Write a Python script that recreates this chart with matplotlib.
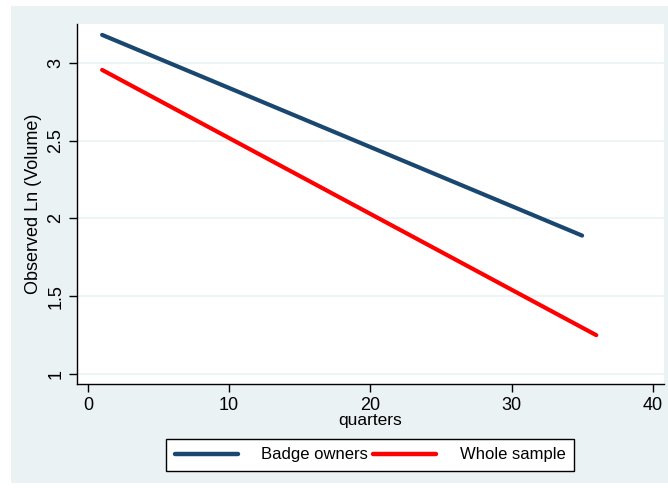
import matplotlib
matplotlib.use("Agg")
import matplotlib.pyplot as plt
from matplotlib.patches import Rectangle

plt.rcParams['font.family'] = ['Liberation Sans', 'DejaVu Sans']

# fitted lines (end points)
badge_q = [1, 35]
badge_vol = [3.18, 1.89]
whole_q = [1, 36]
whole_vol = [2.955, 1.25]

x_ticks = [0, 10, 20, 30, 40]
y_ticks = [1, 1.5, 2, 2.5, 3]
y_tick_labels = ['1', '1.5', '2', '2.5', '3']

bg = '#EAF2F3'
navy = '#1A476F'

fig = plt.figure(figsize=(6.68, 4.88), dpi=100)
fig.patch.set_facecolor('white')
# Stata-like outer panel, kept behind the axes
fig.add_artist(Rectangle((11 / 668, 5 / 488), 657 / 668, 477 / 488,
                         transform=fig.transFigure, facecolor=bg,
                         edgecolor='none', zorder=-10))

ax = fig.add_axes([77 / 668, 104 / 488, 587 / 668, 360 / 488])
ax.set_zorder(1)
ax.set_facecolor('white')

ax.plot(badge_q, badge_vol, color=navy, lw=3, solid_capstyle='round',
        label='Badge owners', zorder=3)
ax.plot(whole_q, whole_vol, color='#FF0000', lw=3, solid_capstyle='round',
        label='Whole sample', zorder=3)

ax.set_xlim(-0.78, 40.8)
ax.set_ylim(0.936, 3.25)
ax.set_xticks(x_ticks)
ax.set_yticks(y_ticks)
ax.set_yticklabels(y_tick_labels, rotation=90, va='center')
ax.tick_params(direction='out', length=6, width=1, labelsize=13, pad=3)
ax.grid(axis='y', color=bg, lw=1.2)
ax.set_axisbelow(True)

for s in ['top', 'right']:
    ax.spines[s].set_visible(False)
for s in ['left', 'bottom']:
    ax.spines[s].set_linewidth(1)

ax.set_xlabel('quarters', fontsize=12.5, labelpad=0)
ax.set_ylabel('Observed Ln (Volume)', fontsize=13, labelpad=4)

leg = fig.legend(loc='center', bbox_to_anchor=(370 / 668, 33 / 488), ncol=2,
                 fontsize=12, handlelength=3.8, handletextpad=1.4,
                 columnspacing=0.3, fancybox=False, framealpha=1,
                 edgecolor='black', borderpad=0.5)
leg.get_frame().set_linewidth(1)
leg.set_zorder(5)
for h in leg.get_lines():
    h.set_linewidth(3.2)

fig.savefig('out.png', dpi=100, facecolor='white')
